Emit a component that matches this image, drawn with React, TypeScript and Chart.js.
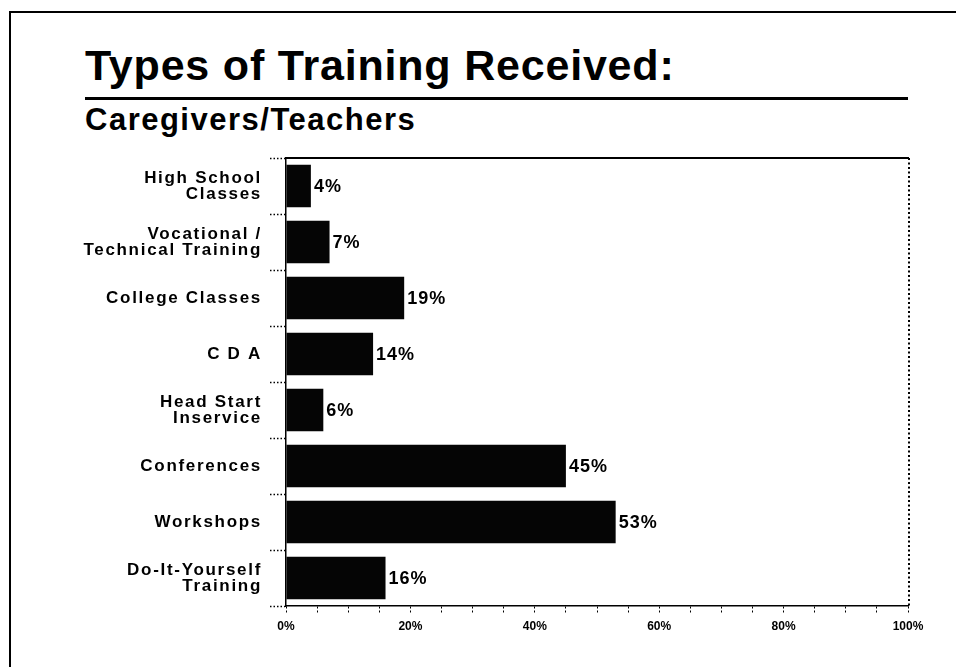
import React, { useEffect, useRef } from "react";
import { Chart, registerables } from "chart.js";

Chart.register(...registerables);

const categories: (string | string[])[] = [
  ["High School", "Classes"],
  ["Vocational /", "Technical Training"],
  "College Classes",
  "C D A",
  ["Head Start", "Inservice"],
  "Conferences",
  "Workshops",
  ["Do-It-Yourself", "Training"],
];
const percentValues: number[] = [4, 7, 19, 14, 6, 45, 53, 16];
const xTickValues: number[] = [0, 20, 40, 60, 80, 100];

const FONT = '"Liberation Sans", Arial, Helvetica, sans-serif';

const dataLabelPlugin = {
  id: "dataLabels",
  afterDatasetsDraw(chart: any) {
    const ctx = chart.ctx;
    const meta = chart.getDatasetMeta(0);
    ctx.save();
    ctx.letterSpacing = "1px";
    ctx.font = `bold 18px ${FONT}`;
    ctx.fillStyle = "#000";
    ctx.textAlign = "left";
    ctx.textBaseline = "middle";
    meta.data.forEach((bar: any, i: number) => {
      ctx.fillText(percentValues[i] + "%", bar.x + 3, bar.y + 1);
    });
    ctx.restore();
  },
};

const framePlugin = {
  id: "frame",
  afterDraw(chart: any) {
    const { ctx, chartArea } = chart;
    ctx.save();
    ctx.strokeStyle = "#000";
    ctx.lineWidth = 2;
    ctx.beginPath();
    ctx.moveTo(chartArea.left, chartArea.top);
    ctx.lineTo(chartArea.right + 1, chartArea.top);
    ctx.stroke();
    ctx.setLineDash([2, 2.5]);
    ctx.beginPath();
    ctx.moveTo(chartArea.right + 1, chartArea.top);
    ctx.lineTo(chartArea.right + 1, chartArea.bottom);
    ctx.stroke();
    ctx.restore();
  },
};

const spacingPlugin = {
  id: "ySpacing",
  afterLayout(chart: any) {
    const s = chart.scales.y;
    if (s && !s.__wrapped) {
      const orig = s.drawLabels.bind(s);
      s.drawLabels = (area: any) => {
        const ctx = chart.ctx;
        ctx.save();
        ctx.letterSpacing = "1.7px";
        orig(area);
        ctx.restore();
      };
      s.__wrapped = true;
    }
  },
};

function App() {
  const canvasRef = useRef<HTMLCanvasElement | null>(null);

  useEffect(() => {
    document.body.style.margin = "0";
    const canvas = canvasRef.current;
    if (!canvas) return;
    const chart = new Chart(canvas, {
      type: "bar",
      data: {
        labels: categories,
        datasets: [
          {
            data: percentValues,
            backgroundColor: "#050505",
            borderWidth: 0,
            barPercentage: 0.76,
            categoryPercentage: 1,
          },
        ],
      },
      options: {
        indexAxis: "y",
        responsive: false,
        animation: false,
        layout: { padding: { left: 0, right: 48, top: 158, bottom: 21 } },
        plugins: {
          legend: { display: false },
          tooltip: { enabled: false },
          title: { display: false },
        },
        scales: {
          x: {
            min: 0,
            max: 100,
            ticks: {
              stepSize: 5,
              autoSkip: false,
              maxRotation: 0,
              padding: 6,
              color: "#000",
              font: { family: FONT, size: 12, weight: "bold" },
              callback: (v: any) => (xTickValues.includes(Number(v)) ? v + "%" : ""),
            },
            grid: {
              drawOnChartArea: false,
              drawTicks: true,
              tickLength: 7,
              tickColor: "#000",
              tickWidth: 1,
              tickBorderDash: [2, 2],
            },
            border: { display: true, color: "#000", width: 1.5, dash: [1.5, 2] },
            afterFit: (s: any) => {
              s.height = 40;
            },
          },
          y: {
            ticks: {
              color: "#000",
              padding: 8,
              font: { family: FONT, size: 17, weight: "bold", lineHeight: 0.95 },
            },
            grid: {
              drawOnChartArea: false,
              drawTicks: true,
              offset: true,
              tickLength: 16,
              tickColor: "#000",
              tickWidth: 1.5,
              tickBorderDash: [1.5, 2],
            },
            border: { display: true, color: "#000", width: 1.5, dash: [1.5, 2] },
            afterFit: (s: any) => {
              s.width = 286;
            },
          },
        },
      },
      plugins: [dataLabelPlugin, framePlugin, spacingPlugin],
    } as any);
    return () => chart.destroy();
  }, []);

  return (
    <div
      style={{
        position: "relative",
        width: 956,
        height: 667,
        overflow: "hidden",
        background: "#fff",
        fontFamily: FONT,
        color: "#000",
      }}
    >
      <style>{`body{margin:0}`}</style>
      <div style={{ position: "absolute", left: 9, top: 11, width: 947, height: 2, background: "#000" }} />
      <div style={{ position: "absolute", left: 9, top: 11, width: 2, height: 656, background: "#000" }} />
      <div
        style={{
          position: "absolute",
          left: 85,
          top: 44,
          fontSize: 43,
          lineHeight: "43px",
          fontWeight: "bold",
          letterSpacing: "0.8px",
          whiteSpace: "nowrap",
        }}
      >
        Types of Training Received:
      </div>
      <div style={{ position: "absolute", left: 85, top: 97, width: 823, height: 3, background: "#000" }} />
      <div
        style={{
          position: "absolute",
          left: 85,
          top: 104,
          fontSize: 31,
          lineHeight: "31px",
          fontWeight: "bold",
          letterSpacing: "1.5px",
          whiteSpace: "nowrap",
        }}
      >
        Caregivers/Teachers
      </div>
      <canvas
        ref={canvasRef}
        width={956}
        height={667}
        style={{ position: "absolute", left: 0, top: 0, display: "block" }}
      />
    </div>
  );
}

export default App;
